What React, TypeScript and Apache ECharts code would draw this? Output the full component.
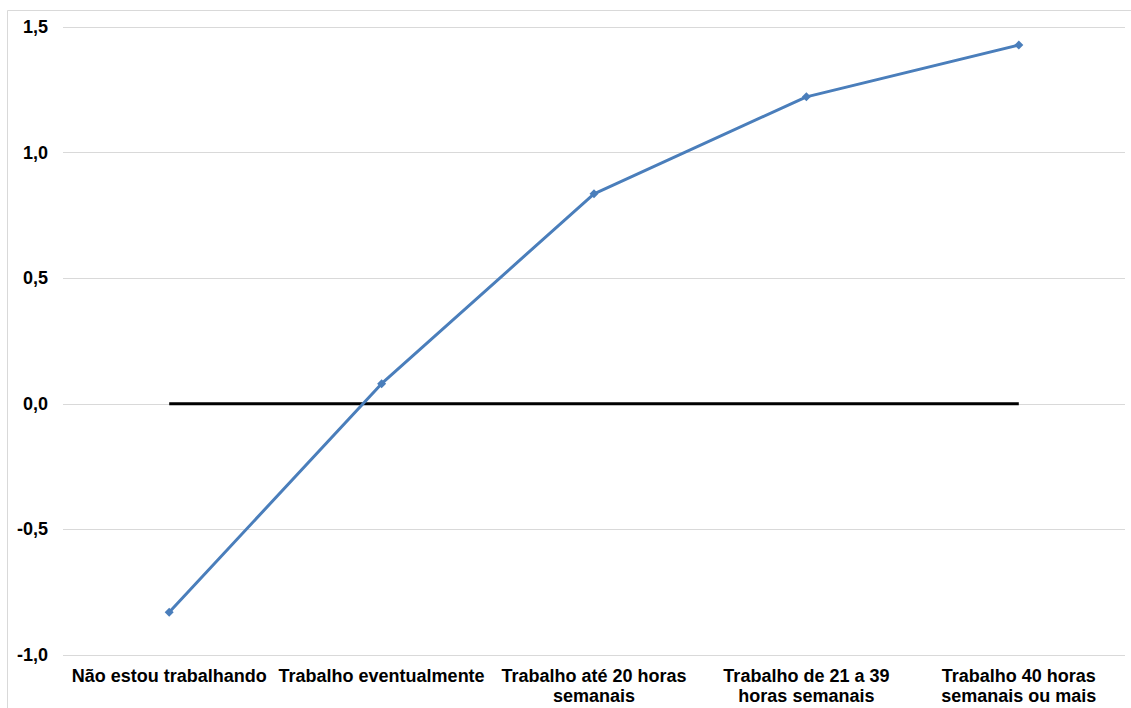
import React, { useEffect, useRef } from "react";
import * as echarts from "echarts";

const categories = [
  "Não estou trabalhando",
  "Trabalho eventualmente",
  "Trabalho até 20 horas\nsemanais",
  "Trabalho de 21 a 39\nhoras semanais",
  "Trabalho 40 horas\nsemanais ou mais",
];
const values = [-0.83, 0.08, 0.836, 1.222, 1.428];
const zeroLine = [0, 0, 0, 0, 0];
const yTicks = { min: -1.0, max: 1.5, interval: 0.5 };

export default function App() {
  const ref = useRef<HTMLDivElement>(null);
  useEffect(() => {
    document.body.style.margin = "0";
    const chart = echarts.init(ref.current!, null, { renderer: "svg" });
    chart.setOption({
      animation: false,
      backgroundColor: "#ffffff",
      textStyle: { fontFamily: "Liberation Sans, Arial, sans-serif" },
      graphic: [
        {
          type: "rect",
          shape: { x: 7.5, y: 10.5, width: 1130, height: 710 },
          style: { fill: "none", stroke: "#d9d9d9", lineWidth: 1 },
          silent: true,
        },
      ],
      grid: { left: 63, right: 6, top: 27, bottom: 53, containLabel: false },
      xAxis: {
        type: "category",
        data: categories,
        boundaryGap: true,
        axisLine: { show: false },
        axisTick: { show: false },
        axisLabel: {
          interval: 0,
          color: "#000",
          fontWeight: "bold",
          fontSize: 18,
          lineHeight: 20,
          margin: 11,
          fontFamily: "Liberation Sans, Arial, sans-serif",
        },
      },
      yAxis: {
        type: "value",
        min: yTicks.min,
        max: yTicks.max,
        interval: yTicks.interval,
        axisLine: { show: false },
        axisTick: { show: false },
        splitLine: { lineStyle: { color: "#d9d9d9", width: 1 } },
        axisLabel: {
          color: "#000",
          fontWeight: "bold",
          fontSize: 18,
          margin: 15,
          fontFamily: "Liberation Sans, Arial, sans-serif",
          formatter: (v: number) => v.toFixed(1).replace(".", ","),
        },
      },
      series: [
        {
          type: "line",
          data: zeroLine,
          symbol: "none",
          lineStyle: { color: "#000000", width: 3 },
          z: 2,
        },
        {
          type: "line",
          data: values,
          symbol: "diamond",
          symbolSize: 9,
          itemStyle: { color: "#4a7ebb" },
          lineStyle: { color: "#4a7ebb", width: 3 },
          z: 3,
        },
      ],
    });
    return () => chart.dispose();
  }, []);
  return (
    <div
      ref={ref}
      style={{ position: "absolute", left: 0, top: 0, width: 1131, height: 708 }}
    />
  );
}
